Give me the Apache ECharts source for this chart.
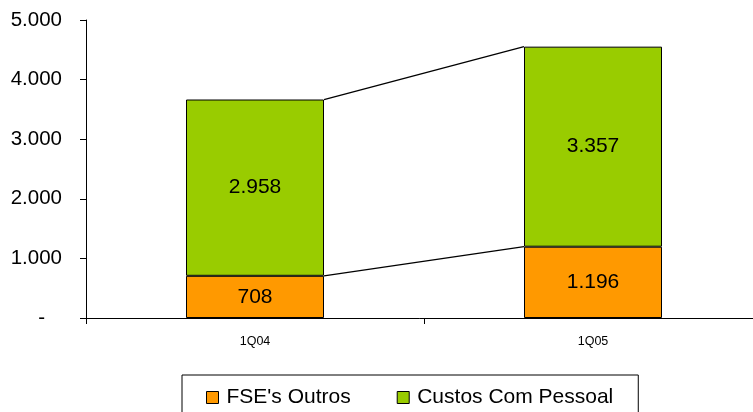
<!DOCTYPE html>
<html>
<head>
<meta charset="utf-8">
<script src="https://cdn.jsdelivr.net/npm/echarts@6/dist/echarts.min.js"></script>
<style>html,body{margin:0;padding:0;background:#fff}#c{width:753px;height:412px}</style>
</head>
<body>
<div id="c"></div>
<script>
var categories = ['1Q04', '1Q05'];
var fseOutros = [708, 1196];
var custosPessoal = [2958, 3357];
var yTicks = [0, 1000, 2000, 3000, 4000, 5000];

function fmt(v) {
  if (v === 0) return '-';
  var s = String(Math.round(v));
  return s.replace(/\B(?=(\d{3})+(?!\d))/g, '.');
}

var totals = categories.map(function (c, i) { return fseOutros[i] + custosPessoal[i]; });
var connectors = [[0, totals[0], totals[1]], [0, fseOutros[0], fseOutros[1]]];
var FONT = 'Liberation Sans, Arial, sans-serif';
var BAR_W = 138;

var chart = echarts.init(document.getElementById('c'));
chart.setOption({
  animation: false,
  textStyle: { fontFamily: FONT },
  grid: { left: 86, top: 20, bottom: 94, width: 676, outerBoundsMode: 'none', containLabel: false },
  xAxis: {
    type: 'category',
    data: categories,
    axisLine: { lineStyle: { color: '#000', width: 1 } },
    axisTick: { show: true, length: 6, lineStyle: { color: '#000' } },
    axisLabel: { color: '#000', fontSize: 12.5, margin: 17, fontFamily: FONT }
  },
  yAxis: {
    type: 'value',
    min: yTicks[0],
    max: yTicks[yTicks.length - 1],
    interval: 1000,
    splitLine: { show: false },
    axisLine: { show: true, lineStyle: { color: '#000', width: 1 } },
    axisTick: { show: true, length: 6, lineStyle: { color: '#000' } },
    axisLabel: {
      color: '#000', fontSize: 20.5, margin: 24, fontFamily: FONT,
      formatter: function (v) { return v === 0 ? '{d|-}' : fmt(v); },
      rich: { d: { fontSize: 20.5, color: '#000', padding: [0, 17, 0, 0], fontFamily: FONT } }
    }
  },
  legend: {
    left: 182,
    top: 375,
    padding: [12, 25, 20, 24],
    borderColor: '#000',
    borderWidth: 1,
    itemWidth: 12,
    itemHeight: 12,
    itemGap: 46,
    icon: 'rect',
    textStyle: { fontSize: 21, color: '#000', fontFamily: FONT, padding: [0, 0, 0, 3] },
    data: [
      { name: "FSE's Outros", itemStyle: { borderColor: '#000', borderWidth: 1 } },
      { name: 'Custos Com Pessoal', itemStyle: { borderColor: '#000', borderWidth: 1 } }
    ]
  },
  series: [
    {
      name: "FSE's Outros",
      type: 'bar',
      stack: 'a',
      barWidth: BAR_W,
      data: fseOutros,
      itemStyle: { color: '#FF9900', borderColor: '#000', borderWidth: 1 },
      label: { show: true, position: 'inside', color: '#000', fontSize: 21, fontFamily: FONT, formatter: function (p) { return fmt(p.value); } }
    },
    {
      name: 'Custos Com Pessoal',
      type: 'bar',
      stack: 'a',
      barWidth: BAR_W,
      data: custosPessoal,
      itemStyle: { color: '#99CC00', borderColor: '#000', borderWidth: 1 },
      label: { show: true, position: 'inside', color: '#000', fontSize: 21, fontFamily: FONT, formatter: function (p) { return fmt(p.value); } }
    },
    {
      type: 'custom',
      silent: true,
      encode: { x: 0, y: [1, 2] },
      data: connectors,
      z: 5,
      renderItem: function (params, api) {
        var c = api.value(0);
        var p1 = api.coord([c, api.value(1)]);
        var p2 = api.coord([c + 1, api.value(2)]);
        var h = BAR_W / 2;
        return {
          type: 'line',
          shape: { x1: p1[0] + h, y1: p1[1], x2: p2[0] - h, y2: p2[1] },
          style: { stroke: '#000', lineWidth: 1.3 }
        };
      }
    }
  ]
});
</script>
</body>
</html>
